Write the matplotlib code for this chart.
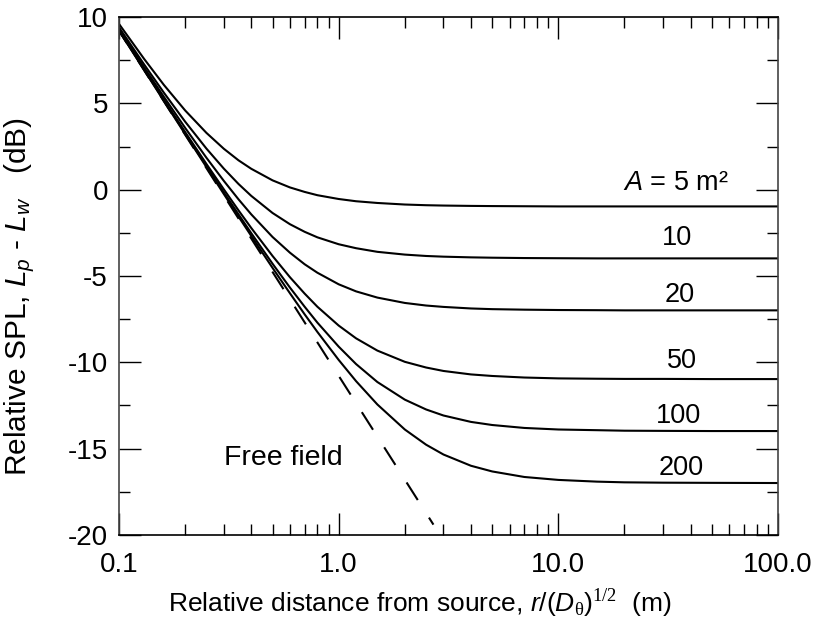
import numpy as np
import matplotlib
matplotlib.use('Agg')
import matplotlib.pyplot as plt
from matplotlib.ticker import FixedLocator, NullFormatter

plt.rcParams['font.family'] = ['Liberation Sans', 'DejaVu Sans']
plt.rcParams['mathtext.fontset'] = 'custom'
plt.rcParams['mathtext.rm'] = 'Liberation Sans'
plt.rcParams['mathtext.it'] = 'Liberation Sans:italic'
plt.rcParams['mathtext.sf'] = 'Liberation Sans'
plt.rcParams['mathtext.cal'] = 'Liberation Serif'
plt.rcParams['axes.unicode_minus'] = False

# distance r/sqrt(D) (m)
dist = [0.1, 0.13, 0.16, 0.2, 0.25, 0.3, 0.35, 0.4, 0.5, 0.6, 0.7, 0.8, 1.0,
        1.2, 1.5, 2.0, 2.5, 3.0, 4.0, 5.0, 7.0, 10.0, 15.0, 20.0, 30.0, 50.0, 100.0]

# Lp - Lw (dB) for each room absorption A
spl_a5 = [9.60, 7.58, 6.07, 4.59, 3.29, 2.37, 1.70, 1.21, 0.54, 0.13, -0.13, -0.32, -0.54,
          -0.67, -0.77, -0.86, -0.90, -0.92, -0.94, -0.95, -0.96, -0.97, -0.97, -0.97, -0.97, -0.97, -0.97]
spl_a10 = [9.40, 7.26, 5.62, 3.94, 2.38, 1.22, 0.33, -0.36, -1.35, -2.00, -2.44, -2.76, -3.16,
           -3.39, -3.60, -3.76, -3.84, -3.88, -3.92, -3.94, -3.96, -3.97, -3.98, -3.98, -3.98, -3.98, -3.98]
spl_a20 = [9.30, 7.09, 5.38, 3.58, 1.85, 0.51, -0.56, -1.43, -2.74, -3.65, -4.32, -4.81, -5.48,
           -5.89, -6.25, -6.56, -6.71, -6.79, -6.88, -6.92, -6.95, -6.97, -6.98, -6.99, -6.99, -6.99, -6.99]
spl_a50 = [9.24, 6.99, 5.22, 3.34, 1.49, 0.02, -1.20, -2.22, -3.84, -5.07, -6.02, -6.78, -7.87,
           -8.61, -9.32, -9.97, -10.30, -10.50, -10.70, -10.79, -10.88, -10.93, -10.95, -10.96, -10.96, -10.97, -10.97]
spl_a100 = [9.22, 6.96, 5.17, 3.26, 1.37, -0.16, -1.43, -2.52, -4.29, -5.67, -6.78, -7.70, -9.09,
            -10.10, -11.14, -12.16, -12.73, -13.08, -13.45, -13.63, -13.80, -13.89, -13.93, -13.96, -13.97, -13.98, -13.98]
spl_a200 = [9.21, 6.94, 5.14, 3.22, 1.31, -0.25, -1.56, -2.68, -4.53, -6.00, -7.22, -8.24, -9.86,
            -11.09, -12.44, -13.89, -14.77, -15.34, -15.99, -16.32, -16.64, -16.81, -16.91, -16.95, -16.97, -16.98, -16.99]
curves = [spl_a5, spl_a10, spl_a20, spl_a50, spl_a100, spl_a200]

# free field line
ff_dist = [0.1, 2.7]
ff_spl = [9.2, -19.4]

curve_labels = ['$A$ = 5 m²', '10', '20', '50', '100', '200']
label_x = [34.5, 34.7, 35.8, 36.5, 35.4, 36.3]
label_y = [0.0, -3.2, -6.5, -10.3, -13.5, -16.5]

fig = plt.figure(figsize=(8.14, 6.21), dpi=100)
ax = fig.add_axes([0.1462, 0.1385, 0.8096, 0.8341])

for c in curves:
    ax.plot(dist, c, color='black', lw=1.5)
ax.plot(ff_dist, ff_spl, color='black', lw=1.5, linestyle=(3, (10, 10)))

for t, xx, yy in zip(curve_labels, label_x, label_y):
    ax.text(xx, yy, t, ha='center', va='baseline', fontsize=19.5)
ax.text(0.30, -15.94, 'Free field', ha='left', va='baseline', fontsize=20.5)

ax.set_xscale('log')
ax.set_xlim(0.1, 100)
ax.set_ylim(-20, 10)
ax.set_xticks([0.1, 1, 10, 100])
ax.set_xticklabels(['0.1', '1.0', '10.0', '100.0'])
ax.xaxis.set_minor_locator(FixedLocator([m * 10.0 ** e for e in range(-1, 2) for m in range(2, 10)]))
ax.xaxis.set_minor_formatter(NullFormatter())
ax.set_yticks([10, 5, 0, -5, -10, -15, -20])
ax.set_yticklabels(['10', '5', '0', '-5', '-10', '-15', '-20'])
ax.yaxis.set_minor_locator(FixedLocator(np.arange(-17.5, 10, 5)))

ax.tick_params(which='both', direction='in', top=True, right=True, width=1.0, labelsize=20)
ax.tick_params(which='major', length=16)
ax.tick_params(which='minor', length=8)
ax.tick_params(axis='x', which='major', pad=12)
ax.tick_params(axis='y', which='major', pad=8)
for s in ax.spines.values():
    s.set_linewidth(1.2)
ax.spines['left'].set_color('#444444')
ax.spines['right'].set_color('#444444')

ax.set_xlabel(r'Relative distance from source, $r$/($D_{\mathcal{\theta}}$)$^{\mathcal{1/2}}$  (m)',
              fontsize=19)
ax.xaxis.set_label_coords(0.457, -0.100)
ax.set_ylabel(r'Relative SPL, $L_p$ - $L_w$   (dB)', fontsize=21.5)
ax.yaxis.set_label_coords(-0.124, 0.461)

fig.savefig('out.png', dpi=100)
